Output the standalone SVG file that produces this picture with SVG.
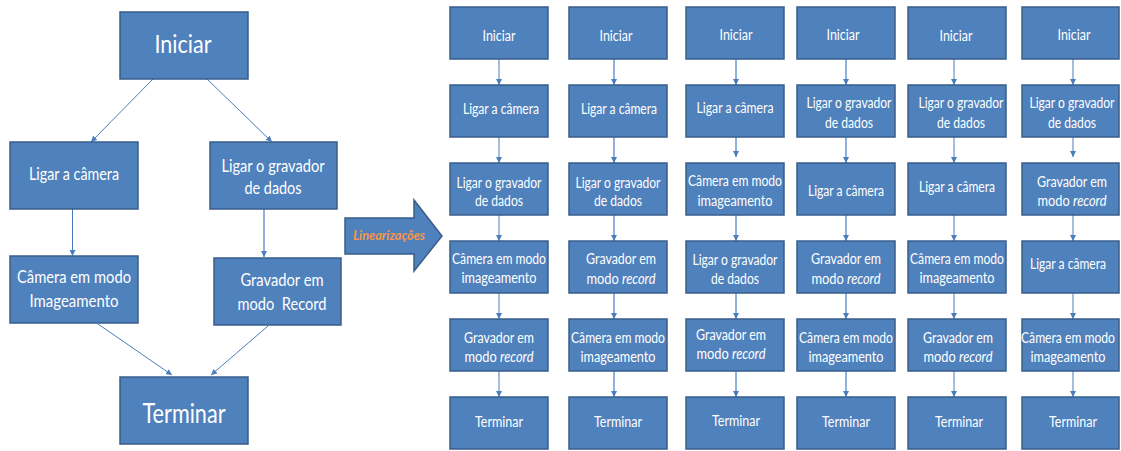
<svg xmlns="http://www.w3.org/2000/svg" width="1121" height="451" viewBox="0 0 1121 451">
  <style>
    .box { fill: #4f81bd; stroke: #385d8a; stroke-width: 1.5; }
    .t { fill: #ffffff; font-family: Lato, "Liberation Sans", sans-serif; text-anchor: middle; }
    .s { font-size: 14.5px; }
    .m { font-size: 17px; }
    .c { fill: none; stroke: #4a7ebb; stroke-width: 1; marker-end: url(#ah); }
    .c2 { fill: none; stroke: #8fb0dc; stroke-width: 2; marker-end: url(#ah); }
    .i { font-style: italic; }
  </style>
  <defs>
    <marker id="ah" viewBox="0 0 10 10" refX="10" refY="5" markerWidth="6" markerHeight="6" orient="auto" markerUnits="userSpaceOnUse">
      <path d="M0,0 L10,5 L0,10 z" fill="#4a7ebb"/>
    </marker>
  </defs>
  <rect width="1121" height="451" fill="#ffffff"/>

  <!-- connectors -->
  <g id="connectors">
    <!-- partial-order graph -->
    <line class="c" x1="153" y1="79" x2="91" y2="142"/>
    <line class="c" x1="207" y1="79" x2="272" y2="142"/>
    <line class="c" x1="72.5" y1="209" x2="72.5" y2="256"/>
    <line class="c2" x1="264" y1="209" x2="264" y2="257"/>
    <line class="c" x1="98" y1="324" x2="172" y2="375"/>
    <line class="c" x1="268" y1="326" x2="211" y2="375"/>
    <!-- column 1 -->
    <line class="c" x1="499" y1="59" x2="499" y2="85"/>
    <line class="c" x1="499" y1="137" x2="499" y2="163"/>
    <line class="c" x1="499" y1="215" x2="499" y2="241"/>
    <line class="c" x1="499" y1="293" x2="499" y2="319"/>
    <line class="c" x1="499" y1="371" x2="499" y2="397"/>
    <!-- column 2 -->
    <line class="c2" x1="614" y1="59" x2="614" y2="85"/>
    <line class="c2" x1="614" y1="137" x2="614" y2="163"/>
    <line class="c2" x1="614" y1="215" x2="614" y2="241"/>
    <line class="c2" x1="614" y1="293" x2="614" y2="319"/>
    <line class="c2" x1="614" y1="371" x2="614" y2="397"/>
    <!-- column 3 -->
    <line class="c2" x1="736" y1="59" x2="736" y2="85"/>
    <line class="c2" x1="736" y1="137" x2="736" y2="157"/>
    <line class="c2" x1="736" y1="215" x2="736" y2="241"/>
    <line class="c2" x1="736" y1="293" x2="736" y2="319"/>
    <line class="c2" x1="736" y1="371" x2="736" y2="397"/>
    <!-- column 4 -->
    <line class="c2" x1="846" y1="59" x2="846" y2="85"/>
    <line class="c2" x1="846" y1="137" x2="846" y2="163"/>
    <line class="c2" x1="846" y1="215" x2="846" y2="241"/>
    <line class="c2" x1="846" y1="293" x2="846" y2="319"/>
    <line class="c2" x1="846" y1="371" x2="846" y2="397"/>
    <!-- column 5 -->
    <line class="c" x1="954" y1="59" x2="954" y2="85"/>
    <line class="c" x1="954" y1="137" x2="954" y2="163"/>
    <line class="c" x1="954" y1="215" x2="954" y2="241"/>
    <line class="c" x1="954" y1="293" x2="954" y2="319"/>
    <line class="c" x1="954" y1="371" x2="954" y2="397"/>
    <!-- column 6 -->
    <line class="c" x1="1073" y1="59" x2="1073" y2="85"/>
    <line class="c" x1="1073" y1="137" x2="1073" y2="157"/>
    <line class="c" x1="1073" y1="215" x2="1073" y2="241"/>
    <line class="c" x1="1073" y1="293" x2="1073" y2="319"/>
    <line class="c" x1="1073" y1="371" x2="1073" y2="397"/>
  </g>

  <!-- partial-order graph nodes -->
  <g id="g-iniciar">
    <rect class="box" x="120" y="12" width="128" height="67"/>
    <text class="t" x="183" y="53" font-size="25" textLength="57" lengthAdjust="spacingAndGlyphs">Iniciar</text>
  </g>
  <g id="g-camera">
    <rect class="box" x="10" y="142" width="128" height="67"/>
    <text class="t m" x="74" y="180" textLength="90" lengthAdjust="spacingAndGlyphs">Ligar a câmera</text>
  </g>
  <g id="g-gravador">
    <rect class="box" x="210" y="142" width="127" height="67"/>
    <text class="t m" x="273" y="172" textLength="103" lengthAdjust="spacingAndGlyphs">Ligar o gravador</text>
    <text class="t m" x="273" y="194" textLength="57" lengthAdjust="spacingAndGlyphs">de dados</text>
  </g>
  <g id="g-imageamento">
    <rect class="box" x="10" y="256" width="128" height="67"/>
    <text class="t m" x="74" y="283" textLength="114" lengthAdjust="spacingAndGlyphs">Câmera em modo</text>
    <text class="t m" x="74" y="307" textLength="89" lengthAdjust="spacingAndGlyphs">Imageamento</text>
  </g>
  <g id="g-record">
    <rect class="box" x="214" y="258" width="127" height="67"/>
    <text class="t m" x="282" y="286" textLength="83" lengthAdjust="spacingAndGlyphs">Gravador em</text>
    <text class="t m" x="282" y="310" textLength="89" lengthAdjust="spacingAndGlyphs" xml:space="preserve">modo  Record</text>
  </g>
  <g id="g-terminar">
    <rect class="box" x="120" y="377" width="128" height="67"/>
    <text class="t" x="184" y="423" font-size="27" textLength="83" lengthAdjust="spacingAndGlyphs">Terminar</text>
  </g>

  <!-- block arrow -->
  <g id="linearizacoes">
    <path d="M345,218 L414,218 L414,200 L442,236 L414,271 L414,254 L345,254 Z" fill="#4f81bd" stroke="#385d8a" stroke-width="1.5"/>
    <text x="389" y="240" font-family="Lato, 'Liberation Sans', sans-serif" font-size="14" font-style="italic" font-weight="bold" fill="#f79646" text-anchor="middle" textLength="72" lengthAdjust="spacingAndGlyphs">Linearizações</text>
  </g>

  <!-- column 1 -->
  <g id="l1">
    <rect class="box" x="450" y="7" width="98" height="52"/>
    <text class="t s" x="499" y="41" textLength="33" lengthAdjust="spacingAndGlyphs">Iniciar</text>
    <rect class="box" x="450" y="85" width="98" height="52"/>
    <text class="t s" x="501" y="114" textLength="76" lengthAdjust="spacingAndGlyphs">Ligar a câmera</text>
    <rect class="box" x="450" y="163" width="98" height="52"/>
    <text class="t s" x="499" y="188" textLength="85" lengthAdjust="spacingAndGlyphs">Ligar o gravador</text>
    <text class="t s" x="499" y="206" textLength="48" lengthAdjust="spacingAndGlyphs">de dados</text>
    <rect class="box" x="450" y="241" width="98" height="52"/>
    <text class="t s" x="499" y="264" textLength="94" lengthAdjust="spacingAndGlyphs">Câmera em modo</text>
    <text class="t s" x="499" y="283" textLength="75" lengthAdjust="spacingAndGlyphs">imageamento</text>
    <rect class="box" x="450" y="319" width="98" height="52"/>
    <text class="t s" x="499" y="343" textLength="70" lengthAdjust="spacingAndGlyphs">Gravador em</text>
    <text class="t s" x="499" y="362" textLength="69" lengthAdjust="spacingAndGlyphs">modo <tspan class="i">record</tspan></text>
    <rect class="box" x="450" y="397" width="98" height="52"/>
    <text class="t s" x="499" y="427" textLength="48" lengthAdjust="spacingAndGlyphs">Terminar</text>
  </g>

  <!-- column 2 -->
  <g id="l2">
    <rect class="box" x="569" y="7" width="98" height="52"/>
    <text class="t s" x="616" y="41" textLength="33" lengthAdjust="spacingAndGlyphs">Iniciar</text>
    <rect class="box" x="569" y="85" width="98" height="52"/>
    <text class="t s" x="619" y="114" textLength="76" lengthAdjust="spacingAndGlyphs">Ligar a câmera</text>
    <rect class="box" x="569" y="163" width="98" height="52"/>
    <text class="t s" x="618" y="188" textLength="85" lengthAdjust="spacingAndGlyphs">Ligar o gravador</text>
    <text class="t s" x="618" y="206" textLength="48" lengthAdjust="spacingAndGlyphs">de dados</text>
    <rect class="box" x="569" y="241" width="98" height="52"/>
    <text class="t s" x="621" y="264" textLength="70" lengthAdjust="spacingAndGlyphs">Gravador em</text>
    <text class="t s" x="621" y="284" textLength="69" lengthAdjust="spacingAndGlyphs">modo <tspan class="i">record</tspan></text>
    <rect class="box" x="569" y="319" width="98" height="52"/>
    <text class="t s" x="618" y="343" textLength="94" lengthAdjust="spacingAndGlyphs">Câmera em modo</text>
    <text class="t s" x="618" y="362" textLength="75" lengthAdjust="spacingAndGlyphs">imageamento</text>
    <rect class="box" x="569" y="397" width="98" height="52"/>
    <text class="t s" x="618" y="427" textLength="48" lengthAdjust="spacingAndGlyphs">Terminar</text>
  </g>

  <!-- column 3 -->
  <g id="l3">
    <rect class="box" x="686" y="7" width="98" height="52"/>
    <text class="t s" x="736" y="40" textLength="33" lengthAdjust="spacingAndGlyphs">Iniciar</text>
    <rect class="box" x="686" y="85" width="98" height="52"/>
    <text class="t s" x="735" y="113" textLength="77" lengthAdjust="spacingAndGlyphs">Ligar a câmera</text>
    <rect class="box" x="686" y="163" width="98" height="52"/>
    <text class="t s" x="735" y="186" textLength="94" lengthAdjust="spacingAndGlyphs">Câmera em modo</text>
    <text class="t s" x="735" y="206" textLength="75" lengthAdjust="spacingAndGlyphs">imageamento</text>
    <rect class="box" x="686" y="241" width="98" height="52"/>
    <text class="t s" x="735" y="265" textLength="85" lengthAdjust="spacingAndGlyphs">Ligar o gravador</text>
    <text class="t s" x="735" y="284" textLength="48" lengthAdjust="spacingAndGlyphs">de dados</text>
    <rect class="box" x="686" y="319" width="98" height="52"/>
    <text class="t s" x="731" y="340" textLength="70" lengthAdjust="spacingAndGlyphs">Gravador em</text>
    <text class="t s" x="731" y="359" textLength="69" lengthAdjust="spacingAndGlyphs">modo <tspan class="i">record</tspan></text>
    <rect class="box" x="686" y="397" width="98" height="52"/>
    <text class="t s" x="736" y="426" textLength="48" lengthAdjust="spacingAndGlyphs">Terminar</text>
  </g>

  <!-- column 4 -->
  <g id="l4">
    <rect class="box" x="797" y="7" width="98" height="52"/>
    <text class="t s" x="843" y="40" textLength="33" lengthAdjust="spacingAndGlyphs">Iniciar</text>
    <rect class="box" x="797" y="85" width="98" height="52"/>
    <text class="t s" x="849" y="108" textLength="85" lengthAdjust="spacingAndGlyphs">Ligar o gravador</text>
    <text class="t s" x="849" y="128" textLength="48" lengthAdjust="spacingAndGlyphs">de dados</text>
    <rect class="box" x="797" y="163" width="98" height="52"/>
    <text class="t s" x="846" y="196" textLength="76" lengthAdjust="spacingAndGlyphs">Ligar a câmera</text>
    <rect class="box" x="797" y="241" width="98" height="52"/>
    <text class="t s" x="846" y="264" textLength="70" lengthAdjust="spacingAndGlyphs">Gravador em</text>
    <text class="t s" x="846" y="284" textLength="69" lengthAdjust="spacingAndGlyphs">modo <tspan class="i">record</tspan></text>
    <rect class="box" x="797" y="319" width="98" height="52"/>
    <text class="t s" x="846" y="343" textLength="94" lengthAdjust="spacingAndGlyphs">Câmera em modo</text>
    <text class="t s" x="846" y="362" textLength="75" lengthAdjust="spacingAndGlyphs">imageamento</text>
    <rect class="box" x="797" y="397" width="98" height="52"/>
    <text class="t s" x="846" y="427" textLength="48" lengthAdjust="spacingAndGlyphs">Terminar</text>
  </g>

  <!-- column 5 -->
  <g id="l5">
    <rect class="box" x="908" y="7" width="98" height="52"/>
    <text class="t s" x="956" y="41" textLength="33" lengthAdjust="spacingAndGlyphs">Iniciar</text>
    <rect class="box" x="908" y="85" width="98" height="52"/>
    <text class="t s" x="961" y="108" textLength="85" lengthAdjust="spacingAndGlyphs">Ligar o gravador</text>
    <text class="t s" x="961" y="128" textLength="48" lengthAdjust="spacingAndGlyphs">de dados</text>
    <rect class="box" x="908" y="163" width="98" height="52"/>
    <text class="t s" x="957" y="192" textLength="76" lengthAdjust="spacingAndGlyphs">Ligar a câmera</text>
    <rect class="box" x="908" y="241" width="98" height="52"/>
    <text class="t s" x="957" y="264" textLength="94" lengthAdjust="spacingAndGlyphs">Câmera em modo</text>
    <text class="t s" x="957" y="283" textLength="75" lengthAdjust="spacingAndGlyphs">imageamento</text>
    <rect class="box" x="908" y="319" width="98" height="52"/>
    <text class="t s" x="958" y="343" textLength="70" lengthAdjust="spacingAndGlyphs">Gravador em</text>
    <text class="t s" x="958" y="362" textLength="69" lengthAdjust="spacingAndGlyphs">modo <tspan class="i">record</tspan></text>
    <rect class="box" x="908" y="397" width="98" height="52"/>
    <text class="t s" x="959" y="427" textLength="48" lengthAdjust="spacingAndGlyphs">Terminar</text>
  </g>

  <!-- column 6 -->
  <g id="l6">
    <rect class="box" x="1022" y="7" width="97" height="52"/>
    <text class="t s" x="1074" y="40" textLength="33" lengthAdjust="spacingAndGlyphs">Iniciar</text>
    <rect class="box" x="1022" y="85" width="97" height="52"/>
    <text class="t s" x="1072" y="108" textLength="85" lengthAdjust="spacingAndGlyphs">Ligar o gravador</text>
    <text class="t s" x="1072" y="128" textLength="48" lengthAdjust="spacingAndGlyphs">de dados</text>
    <rect class="box" x="1022" y="163" width="97" height="52"/>
    <text class="t s" x="1072" y="187" textLength="70" lengthAdjust="spacingAndGlyphs">Gravador em</text>
    <text class="t s" x="1072" y="206" textLength="69" lengthAdjust="spacingAndGlyphs">modo <tspan class="i">record</tspan></text>
    <rect class="box" x="1022" y="241" width="97" height="52"/>
    <text class="t s" x="1068" y="269" textLength="76" lengthAdjust="spacingAndGlyphs">Ligar a câmera</text>
    <rect class="box" x="1022" y="319" width="97" height="52"/>
    <text class="t s" x="1068" y="343" textLength="94" lengthAdjust="spacingAndGlyphs">Câmera em modo</text>
    <text class="t s" x="1068" y="362" textLength="75" lengthAdjust="spacingAndGlyphs">imageamento</text>
    <rect class="box" x="1022" y="397" width="97" height="52"/>
    <text class="t s" x="1073" y="427" textLength="48" lengthAdjust="spacingAndGlyphs">Terminar</text>
  </g>
</svg>
